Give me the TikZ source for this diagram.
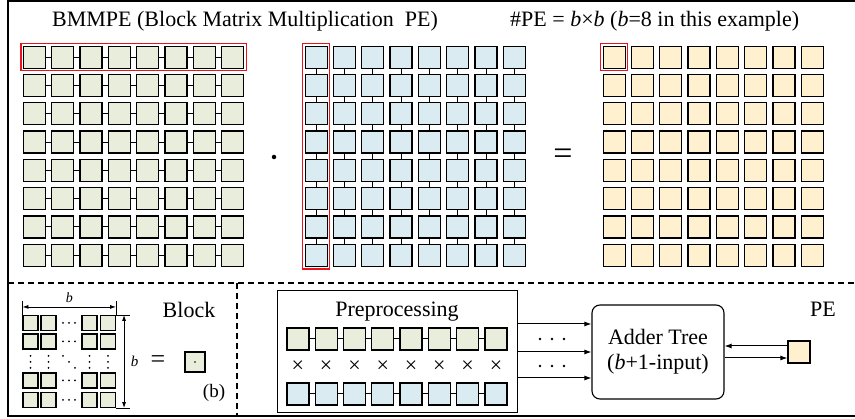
\documentclass[tikz,border=0pt]{standalone}
\usepackage{fontspec}
\setmainfont{Liberation Serif}
\usetikzlibrary{arrows.meta,calc,fit}
\definecolor{blockgreen}{HTML}{E9EEDC}
\definecolor{blockblue}{HTML}{DAEBF1}
\definecolor{blockorange}{HTML}{FFF1CF}
\definecolor{selred}{HTML}{E8141B}

\begin{document}
\begin{tikzpicture}[x=1pt,y=-1pt,
  cell/.style={draw,line width=1.25pt,minimum size=22pt,inner sep=0pt},
  minicell/.style={draw,line width=1.1pt,minimum size=15pt,inner sep=0pt,fill=blockgreen},
  link/.style={line width=1pt},
  selbox/.style={draw=selred,line width=1.3pt,inner sep=2pt},
  arr/.style={line width=1pt,-{Latex[length=7pt,width=5pt]}},
  dimarr/.style={line width=0.8pt,{Latex[length=6pt,width=4pt]}-{Latex[length=6pt,width=4pt]}},
  sep/.style={line width=1.2pt,dash pattern=on 6pt off 4pt},
  txt/.style={font=\fontsize{22}{25}\selectfont,inner sep=0pt}]

  \useasboundingbox (0,0) rectangle (855,419);
  \draw[line width=1.2pt] (855,1) -- (8,1) -- (8,416) -- (855,416);
  \draw[sep] (8,283) -- (855,283);
  \draw[sep] (237,283) -- (237,416);

  % title line
  \node[txt,anchor=base west] (title) at (52,27) {BMMPE (Block Matrix Multiplication\ \ PE)};
  \node[txt,anchor=base west] (count) at (510,27) {\#PE = \textit{b}×\textit{b} (\textit{b}=8 in this example)};

  % A . B = C
  \foreach \i in {0,...,7}
    \foreach \j in {0,...,7} {
      \node[cell,fill=blockgreen] (A-\i-\j) at (34.5+28.3*\i,57.2+28.3*\j) {};
      \node[cell,fill=blockblue] (B-\i-\j) at (316.2+28.3*\i,57.2+28.3*\j) {};
      \node[cell,fill=blockorange] (C-\i-\j) at (614.2+28.3*\i,57.2+28.3*\j) {};
    }
  \foreach \i [count=\k] in {0,...,6}
    \foreach \j in {0,...,7} {
      \draw[link] (A-\i-\j.east) -- (A-\k-\j.west);
      \draw[link] (B-\j-\i.south) -- (B-\j-\k.north);
    }
  \node[selbox,fit=(A-0-0)(A-7-0)] (rowsel) {};
  \node[selbox,fit=(B-0-0)(B-0-7)] (colsel) {};
  \node[selbox,fit=(C-0-0)] (cellsel) {};
  \node[circle,fill,inner sep=0pt,minimum size=4.5pt] (times) at (274,157) {};
  \node[txt,font=\fontsize{34}{34}\selectfont] (equals) at (563,157) {=};

  % block
  \foreach \c/\x in {1/30.5,2/48.5,4/89.5,5/108}
    \foreach \r/\y in {1/323,2/341.5,4/380.5,5/400}
      \node[minicell] (m-\c-\r) at (\x,\y) {};
  \foreach \y in {323,341.5,380.5,400}
    \foreach \x in {63,69,75}
      \fill (\x,\y) circle (1pt);
  \foreach \x in {30.5,48.5,89.5,108}
    \foreach \y in {356,362,368}
      \fill (\x,\y) circle (1pt);
  \foreach \d in {0,1,2}
    \fill (63+6*\d,356+6*\d) circle (1pt);
  \draw[line width=0.8pt] (m-1-1.north west) -- ++(0,-14) coordinate (wl);
  \draw[line width=0.8pt] (m-5-1.north east) -- ++(0,-14) coordinate (wr);
  \draw[dimarr] ($(wl)+(0,6)$) -- ($(wr)+(0,6)$)
    node[midway,above=1pt,font=\fontsize{14}{14}\selectfont] {\textit{b}};
  \draw[line width=0.8pt] (m-5-1.north east) -- ++(14,0) coordinate (ht);
  \draw[line width=0.8pt] (m-5-5.south east) -- ++(14,0) coordinate (hb);
  \draw[dimarr] ($(ht)+(-6,0)$) -- ($(hb)+(-6,0)$)
    node[midway,right=3pt,font=\fontsize{15}{15}\selectfont] {\textit{b}};
  \node[txt,font=\fontsize{26}{26}\selectfont] (beq) at (158,362) {=};
  \node[cell,fill=blockgreen,minimum size=20pt,line width=1.1pt] (blk) at (195,362) {};
  \fill (blk.center) circle (0.9pt);
  \node[txt,anchor=base] (blocklabel) at (189,318) {Block};
  \node[txt,font=\fontsize{19}{19}\selectfont] (sub) at (214,393) {(b)};

  % PE
  \node[draw,line width=1pt,minimum width=240pt,minimum height=122pt,inner sep=0pt] (pre) at (397,352) {};
  \node[txt,anchor=base] (pretitle) at (397,317) {Preprocessing};
  \foreach \i in {0,...,7} {
    \node[cell,fill=blockgreen] (P-\i) at (297.9+28.3*\i,339) {};
    \node[cell,fill=blockblue] (Q-\i) at (297.9+28.3*\i,394) {};
    \node[txt] (x-\i) at (297.9+28.3*\i,367) {×};
  }
  \foreach \i [count=\k] in {0,...,6} {
    \draw[link] (P-\i.east) -- (P-\k.west);
    \draw[link] (Q-\i.east) -- (Q-\k.west);
  }
  \node[txt,draw,rounded corners=8pt,line width=1.1pt,minimum width=132pt,minimum height=94pt,align=center] (adder) at (658,352) {Adder Tree\\(\textit{b}+1-input)};
  \foreach \dy in {-28,0,26}
    \draw[arr] ($(pre.east)+(0,\dy)$) -- ($(adder.west)+(0,\dy)$);
  \foreach \y in {339,366}
    \foreach \x in {540,552,564}
      \fill (\x,\y) circle (1.3pt);
  \node[cell,fill=blockorange] (pe) at (799,352) {};
  \draw[arr] ($(pe.west)+(0,-6)$) -- ($(adder.east)+(0,-6)$);
  \draw[arr] ($(adder.east)+(0,6)$) -- ($(pe.west)+(0,6)$);
  \node[txt,anchor=base] (pelabel) at (823,317) {PE};
\end{tikzpicture}
\end{document}
